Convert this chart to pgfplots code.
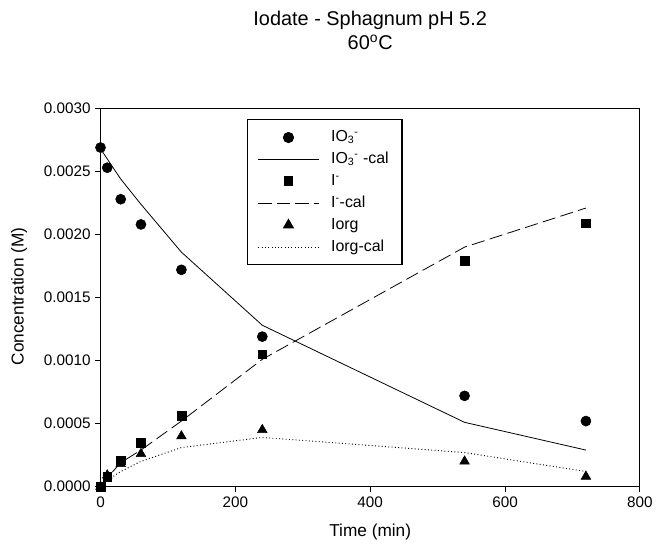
\documentclass[border=0pt]{standalone}
\usepackage{fontspec}
\setmainfont{Liberation Sans}
\usepackage{pgfplots}
\pgfplotsset{compat=1.18}
\newcommand{\IOt}{IO\textsubscript{3}\textsuperscript{-}}
\begin{document}
\begin{tikzpicture}
\begin{axis}[
  scale only axis, width=406.5pt, height=285pt,
  xmin=0, xmax=800, ymin=0, ymax=0.003,
  xtick={0,200,400,600,800},
  ytick={0,0.0005,0.001,0.0015,0.002,0.0025,0.003},
  scaled y ticks=false,
  yticklabel style={/pgf/number format/fixed,/pgf/number format/fixed zerofill,/pgf/number format/precision=4},
  /pgf/number format/assume math mode=true,
  tick pos=left, tick align=outside,
  major tick length=4pt,
  axis line style={line width=0.7pt},
  every tick/.style={line width=0.7pt, black},
  ticklabel style={font=\fontsize{11.5}{13}\selectfont},
  xlabel={Time (min)}, ylabel={Concentration (M)},
  label style={font=\fontsize{13}{15}\selectfont},
  xlabel style={at={(rel axis cs:0.5,-0.121)}, anchor=center},
  ylabel style={at={(rel axis cs:-0.151,0.503)}, anchor=center},
  legend style={at={(rel axis cs:0.271,0.971)}, anchor=north west, draw=black, line width=0.8pt,
    font=\fontsize{12}{14}\selectfont, inner xsep=8pt, inner ysep=5pt, column sep=7pt, cells={anchor=west},
    nodes={inner xsep=2pt, inner ysep=2.7pt, text height=8.6pt, text depth=2.5pt}},
  legend image code/.code={\draw[mark repeat=2,mark phase=2,#1] plot coordinates {(0cm,0cm) (0.8cm,0cm) (1.6cm,0cm)};},
  clip=false,
]
\addplot[only marks, mark=*, mark size=3.8pt, black] coordinates {
(0,0.00269) (10,0.00253) (30,0.00228) (60,0.00208) (120,0.00172) (240,0.00119) (540,0.00072) (720,0.00052)};
\addlegendentry{\IOt}
\addplot[black, line width=0.6pt] coordinates {
(0,0.00268) (10,0.00260) (30,0.00244) (60,0.00224) (120,0.00186) (240,0.00128) (540,0.00051) (720,0.00029)};
\addlegendentry{\IOt\ -cal}
\addplot[only marks, mark=square*, mark size=3.3pt, black] coordinates {
(0,0) (10,0.00008) (30,0.00021) (60,0.00035) (120,0.00056) (240,0.00105) (540,0.00179) (720,0.00209)};
\addlegendentry{I\textsuperscript{-}}
\addplot[black, line width=0.6pt, dash pattern=on 10pt off 4pt] coordinates {
(0,0) (10,0.00007) (30,0.00019) (60,0.00029) (120,0.00052) (240,0.00101) (540,0.00190) (720,0.00221)};
\addlegendentry{I\textsuperscript{-}-cal}
\addplot[only marks, mark=triangle*, mark size=4.2pt, black] coordinates {
(0,0) (10,0.00009) (30,0.00018) (60,0.00026) (120,0.00040) (240,0.00045) (540,0.00020) (720,0.00008)};
\addlegendentry{Iorg}
\addplot[black, line width=0.7pt, dash pattern=on 0.7pt off 1.8pt] coordinates {
(0,0) (10,0.00005) (30,0.00012) (60,0.00020) (120,0.00031) (240,0.00039) (540,0.00027) (720,0.00012)};
\addlegendentry{Iorg-cal}
\end{axis}
\path[use as bounding box] (-75.75pt,-48.75pt) rectangle (417pt,366.75pt);
\node[font=\fontsize{15}{17}\selectfont] at (203.25pt,351.75pt) {Iodate - Sphagnum pH 5.2};
\node[font=\fontsize{15}{17}\selectfont] at (203.25pt,334.5pt) {60\textsuperscript{o}C};
\end{tikzpicture}
\end{document}
